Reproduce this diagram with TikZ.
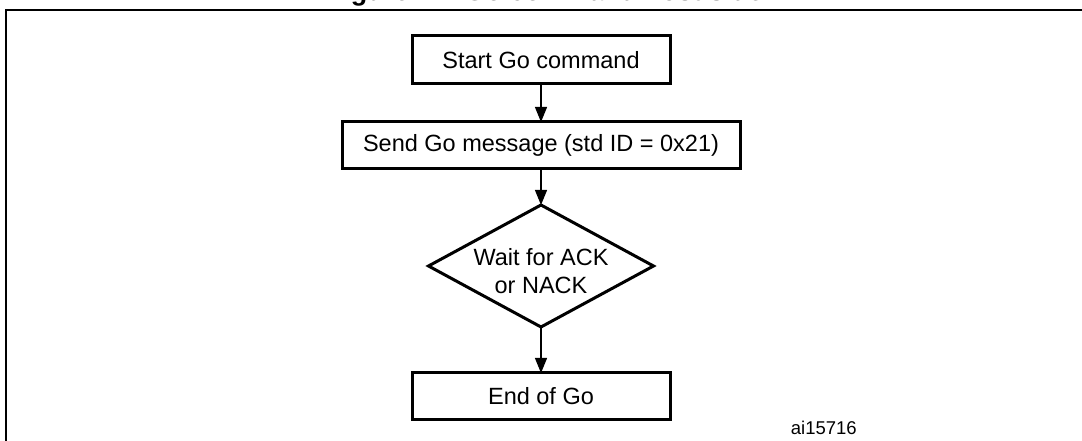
\documentclass[tikz,border=0pt]{standalone}
\usepackage{fontspec}
\setmainfont{Liberation Sans}
\usetikzlibrary{positioning}
\usetikzlibrary{shapes.geometric}
\usetikzlibrary{arrows.meta}

\begin{document}
\begin{tikzpicture}[x=1pt,y=1pt,->,>={Triangle[length=15pt,width=12pt]},line width=1.2pt]
\tikzstyle{box}=[draw,line width=3pt,outer sep=0pt,minimum width=258pt,minimum height=48pt,font=\fontsize{23.5}{28}\selectfont]
\tikzstyle{dec}=[draw,diamond,aspect=1.84,line width=3pt,outer sep=0pt,inner sep=-4pt,minimum width=225pt,minimum height=122pt,font=\fontsize{23.5}{28}\selectfont]
\useasboundingbox (0,0) rectangle (1082,441);
\draw[-,line width=2.5pt] (6,431) rectangle (1110,-20);
\node[font=\bfseries\fontsize{27}{32}\selectfont, anchor=base]	(title)	at (545,440)	{Figure 14. Go command host side};

\node[box]	(start)	at (541,381)	{Start Go command};
\node[box, minimum width=398pt, minimum height=47pt]	(send)	[below=38pt of start]	{Send Go message (std ID = 0x21)};
\node[dec]	(wait)	[below=36pt of send]	{\raisebox{-8pt}[\height][\depth]{\begin{tabular}{@{}c@{}}Wait for ACK\\or NACK\end{tabular}}};
\node[box, minimum height=47pt]	(end)	[below=46pt of wait]	{End of Go};
\node[anchor=base west, font=\fontsize{18.5}{22}\selectfont]	(ref)	at (787,6)	{ai15716};

\path (start)	edge	(send)
	 (send)	edge	(wait)
	 (wait)	edge	(end);
\end{tikzpicture}
\end{document}
